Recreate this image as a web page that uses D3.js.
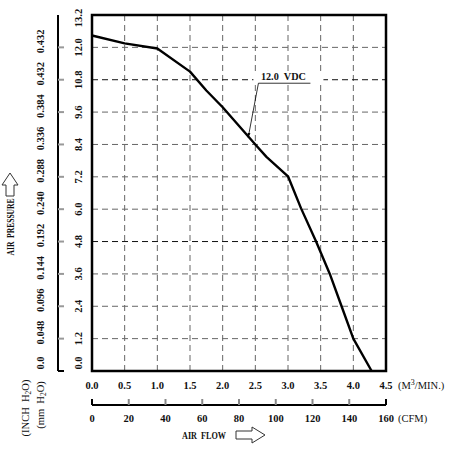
<!DOCTYPE html>
<html>
<head>
<meta charset="utf-8">
<script src="https://cdn.jsdelivr.net/npm/d3@7"></script>
<style>
  body { margin: 0; background: #fff; }
  svg text { font-family: "Liberation Serif", "DejaVu Serif", serif; fill: #111; }
</style>
</head>
<body>
<div id="chart"></div>
<script>
// P-Q curve, 12.0 VDC
const flowM3 = [0, 0.5, 1.0, 1.5, 1.75, 2.0, 2.5, 2.67, 3.0, 3.2, 3.43, 3.64, 3.82, 4.0, 4.28];
const pressureMm = [12.44, 12.15, 11.96, 11.1, 10.4, 9.78, 8.4, 7.94, 7.22, 6.03, 4.8, 3.6, 2.4, 1.2, 0];

const m3Ticks = [0, 0.5, 1.0, 1.5, 2.0, 2.5, 3.0, 3.5, 4.0, 4.5];
const cfmTicks = [0, 20, 40, 60, 80, 100, 120, 140, 160];
const mmTicks = [0, 1.2, 2.4, 3.6, 4.8, 6.0, 7.2, 8.4, 9.6, 10.8, 12.0, 13.2];
const inchLabels = ["0.0", "0.048", "0.096", "0.144", "0.192", "0.240", "0.288", "0.336", "0.384", "0.432", "0.432"];
const darkGrid = [4.8, 10.8];

const W = 451, H = 450;
const margin = { top: 15, right: 65, bottom: 79, left: 92 };
const plotW = W - margin.left - margin.right;
const plotH = H - margin.top - margin.bottom;
const SP = "\u00a0\u00a0";

const svg = d3.select("#chart").append("svg").attr("width", W).attr("height", H);

const x = d3.scaleLinear().domain([0, 4.5]).range([margin.left, margin.left + plotW]);
const y = d3.scaleLinear().domain([0, 13.2]).range([margin.top + plotH, margin.top]);
const cfm = d3.scaleLinear().domain([0, 160]).range([margin.left, margin.left + plotW]);

// grid
svg.append("g")
  .selectAll("line")
  .data(m3Ticks.slice(1, -1))
  .join("line")
  .attr("x1", d => x(d)).attr("x2", d => x(d))
  .attr("y1", y(0)).attr("y2", y(13.2))
  .attr("stroke", "#666").attr("stroke-width", 1)
  .attr("stroke-dasharray", "6 4");

svg.append("g")
  .selectAll("line")
  .data(mmTicks.slice(1, -1))
  .join("line")
  .attr("x1", x(0)).attr("x2", x(4.5))
  .attr("y1", d => y(d)).attr("y2", d => y(d))
  .attr("stroke", d => darkGrid.includes(d) ? "#111" : "#666")
  .attr("stroke-width", 1)
  .attr("stroke-dasharray", "6 4");

// curve
svg.append("path")
  .datum(flowM3.map((f, i) => [f, pressureMm[i]]))
  .attr("fill", "none")
  .attr("stroke", "#000")
  .attr("stroke-width", 2.4)
  .attr("stroke-linejoin", "round")
  .attr("d", d3.line().x(d => x(d[0])).y(d => y(d[1])));

// frame
svg.append("rect")
  .attr("x", x(0)).attr("y", y(13.2))
  .attr("width", plotW).attr("height", plotH)
  .attr("fill", "none").attr("stroke", "#000").attr("stroke-width", 2.5);

// curve label with leader
const lblX = x(2.93), lblY = y(10.8);
svg.append("rect")
  .attr("x", lblX - 30).attr("y", lblY - 6)
  .attr("width", 70).attr("height", 10).attr("fill", "#fff");
svg.append("text")
  .attr("x", lblX).attr("y", lblY)
  .attr("text-anchor", "middle")
  .attr("font-size", 10).attr("font-weight", "bold")
  .attr("textLength", 45).attr("lengthAdjust", "spacingAndGlyphs")
  .text("12.0" + SP + "VDC");
svg.append("line")
  .attr("x1", lblX - 25).attr("x2", lblX + 27)
  .attr("y1", lblY + 3.5).attr("y2", lblY + 3.5)
  .attr("stroke", "#000").attr("stroke-width", 0.8);

svg.append("defs").append("marker")
  .attr("id", "tip").attr("viewBox", "0 0 10 10")
  .attr("refX", 10).attr("refY", 5)
  .attr("markerWidth", 6).attr("markerHeight", 6)
  .attr("orient", "auto")
  .append("path").attr("d", "M0,2 L10,5 L0,8 Z").attr("fill", "#000");

svg.append("line")
  .attr("x1", lblX - 25).attr("y1", lblY + 3.5)
  .attr("x2", x(2.39)).attr("y2", y(8.65))
  .attr("stroke", "#000").attr("stroke-width", 0.8)
  .attr("marker-end", "url(#tip)");

// bottom M3/MIN labels
svg.append("g")
  .selectAll("text")
  .data(m3Ticks)
  .join("text")
  .attr("x", d => x(d)).attr("y", y(0) + 18)
  .attr("text-anchor", "middle")
  .attr("font-size", 10.5).attr("font-weight", "bold")
  .text(d => d.toFixed(1));

const m3Unit = svg.append("text")
  .attr("x", x(4.5) + 12).attr("y", y(0) + 18)
  .attr("font-size", 10.5);
m3Unit.append("tspan").text("(M");
m3Unit.append("tspan").attr("font-size", 8).attr("dy", -4).text("3");
m3Unit.append("tspan").attr("dy", 4).text("/MIN.)");

// CFM axis
const cfmY = 405;
svg.append("line")
  .attr("x1", cfm(0)).attr("x2", cfm(160))
  .attr("y1", cfmY).attr("y2", cfmY)
  .attr("stroke", "#000").attr("stroke-width", 2);
svg.append("g")
  .selectAll("line")
  .data(cfmTicks)
  .join("line")
  .attr("x1", d => cfm(d)).attr("x2", d => cfm(d))
  .attr("y1", cfmY).attr("y2", cfmY - 6)
  .attr("stroke", (d, i) => (i === 0 || i === cfmTicks.length - 1) ? "#000" : "#888")
  .attr("stroke-width", 2);
svg.append("g")
  .selectAll("text")
  .data(cfmTicks)
  .join("text")
  .attr("x", d => cfm(d)).attr("y", cfmY + 17)
  .attr("text-anchor", "middle")
  .attr("font-size", 10.5).attr("font-weight", "bold")
  .text(d => d);
svg.append("text")
  .attr("x", cfm(160) + 12).attr("y", cfmY + 17)
  .attr("font-size", 10.5)
  .text("(CFM)");

// AIR FLOW title + arrow
svg.append("text")
  .attr("x", 204).attr("y", 439)
  .attr("text-anchor", "middle")
  .attr("font-size", 10).attr("font-weight", "bold")
  .attr("textLength", 44).attr("lengthAdjust", "spacingAndGlyphs")
  .text("AIR" + SP + "FLOW");
svg.append("path")
  .attr("d", "M236,431 L252,431 L252,427 L265,435 L252,443 L252,439 L236,439 Z")
  .attr("fill", "#fff").attr("stroke", "#333").attr("stroke-width", 1);

// mm H2O labels (next to frame)
const mmOffset = v => v === 0 ? -8 : (v === 13.2 ? 3 : 0);
svg.append("g")
  .selectAll("text")
  .data(mmTicks)
  .join("text")
  .attr("transform", d => `translate(78.5,${y(d) + mmOffset(d)}) rotate(-90)`)
  .attr("text-anchor", "middle")
  .attr("dominant-baseline", "central")
  .attr("font-size", 10.5).attr("font-weight", "bold")
  .text(d => d.toFixed(1));

// inch H2O axis
const inchX = 58;
svg.append("line")
  .attr("x1", inchX).attr("x2", inchX)
  .attr("y1", y(13.2)).attr("y2", y(0))
  .attr("stroke", "#000").attr("stroke-width", 2);
svg.append("g")
  .selectAll("line")
  .data(mmTicks.slice(0, inchLabels.length))
  .join("line")
  .attr("x1", inchX).attr("x2", inchX + 6)
  .attr("y1", d => y(d)).attr("y2", d => y(d))
  .attr("stroke", d => d === 0 ? "#000" : "#999")
  .attr("stroke-width", 2);
svg.append("g")
  .selectAll("text")
  .data(inchLabels)
  .join("text")
  .attr("transform", (d, i) => `translate(40,${y(mmTicks[i]) - (i === 0 ? 8 : 6)}) rotate(-90)`)
  .attr("text-anchor", "middle")
  .attr("dominant-baseline", "central")
  .attr("font-size", 10.5).attr("font-weight", "bold")
  .text(d => d);

// unit labels on the left
function h2oLabel(cx, cy, pre) {
  const t = svg.append("text")
    .attr("transform", `translate(${cx},${cy}) rotate(-90)`)
    .attr("text-anchor", "middle")
    .attr("dominant-baseline", "central")
    .attr("font-size", 10.5);
  t.append("tspan").text(pre);
  t.append("tspan").attr("font-size", 7.5).attr("dy", 3).text("2");
  t.append("tspan").attr("dy", -3).text("O)");
}
h2oLabel(25, 408, "(INCH" + SP + "H");
h2oLabel(40, 405, "(mm" + SP + "H");

// AIR PRESSURE title + arrow
svg.append("text")
  .attr("transform", "translate(10,227) rotate(-90)")
  .attr("text-anchor", "middle")
  .attr("dominant-baseline", "central")
  .attr("font-size", 10).attr("font-weight", "bold")
  .attr("textLength", 57).attr("lengthAdjust", "spacingAndGlyphs")
  .text("AIR" + SP + "PRESSURE");
svg.append("path")
  .attr("d", "M6,196 L6,185 L2,185 L10,173 L18,185 L14,185 L14,196 Z")
  .attr("fill", "#fff").attr("stroke", "#333").attr("stroke-width", 1);
</script>
</body>
</html>
